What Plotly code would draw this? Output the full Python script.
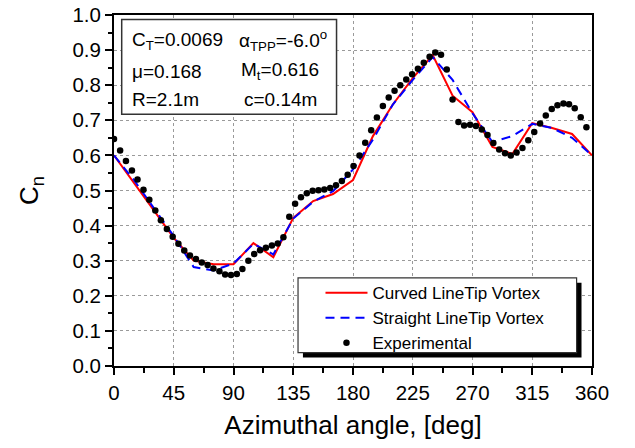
import plotly.graph_objects as go

# ---------------- data ----------------
model_angle = [0, 15, 30, 45, 60, 75, 90, 105, 120, 135, 150, 165, 180,
               195, 210, 225, 240, 255, 270, 285, 300, 315, 330, 345, 360]
curved_cn = [0.600, 0.522, 0.443, 0.365, 0.300, 0.290, 0.290, 0.350, 0.310,
             0.422, 0.470, 0.490, 0.530, 0.655, 0.745, 0.820, 0.886, 0.770,
             0.723, 0.624, 0.604, 0.692, 0.678, 0.661, 0.600]
straight_cn = [0.600, 0.530, 0.450, 0.370, 0.282, 0.272, 0.292, 0.348, 0.318,
               0.420, 0.468, 0.498, 0.560, 0.645, 0.745, 0.815, 0.880, 0.815,
               0.720, 0.638, 0.655, 0.690, 0.678, 0.650, 0.600]

exp_angle = [0.0, 4.6, 9.0, 13.5, 17.7, 22.2, 26.6, 31.1, 35.3, 39.8, 44.2,
             48.5, 52.9, 57.2, 61.7, 66.1, 70.5, 74.9, 79.4, 83.7, 88.1,
             92.5, 96.7, 101.2, 105.6, 110.0, 114.4, 118.9, 123.3, 127.6,
             132.0, 136.4, 140.8, 145.2, 149.6, 154.0, 158.4, 162.8, 167.2,
             171.6, 176.0, 180.4, 184.9, 189.2, 193.7, 198.0, 202.5, 206.9,
             211.3, 215.6, 220.1, 224.5, 228.9, 233.3, 237.7, 242.0, 246.3,
             250.6, 255.0, 259.4, 263.7, 268.2, 272.6, 277.0, 281.3, 285.7,
             290.1, 294.5, 298.8, 303.2, 307.6, 312.0, 316.5, 320.9, 325.2,
             329.7, 334.0, 338.5, 342.7, 347.0, 351.5, 355.8]
exp_cn = [0.647, 0.614, 0.584, 0.557, 0.531, 0.502, 0.474, 0.443, 0.415,
          0.390, 0.368, 0.348, 0.329, 0.315, 0.305, 0.295, 0.288, 0.278,
          0.270, 0.261, 0.259, 0.262, 0.276, 0.300, 0.319, 0.330, 0.337,
          0.343, 0.349, 0.367, 0.425, 0.462, 0.481, 0.492, 0.499, 0.501,
          0.503, 0.507, 0.515, 0.527, 0.545, 0.570, 0.600, 0.636, 0.672,
          0.708, 0.741, 0.765, 0.784, 0.800, 0.816, 0.831, 0.847, 0.864,
          0.881, 0.893, 0.887, 0.845, 0.759, 0.695, 0.685, 0.687, 0.684,
          0.674, 0.658, 0.635, 0.617, 0.606, 0.600, 0.608, 0.621, 0.643,
          0.667, 0.691, 0.714, 0.732, 0.743, 0.748, 0.746, 0.734, 0.709,
          0.680]

x_ticks = [0, 45, 90, 135, 180, 225, 270, 315, 360]
y_ticks = [0.0, 0.1, 0.2, 0.3, 0.4, 0.5, 0.6, 0.7, 0.8, 0.9, 1.0]

FONT = "Liberation Sans, Arial, sans-serif"

fig = go.Figure()
fig.add_trace(go.Scatter(x=model_angle, y=curved_cn, mode="lines",
                         name="Curved LineTip Vortex",
                         line=dict(color="#ff0000", width=2)))
fig.add_trace(go.Scatter(x=model_angle, y=straight_cn, mode="lines",
                         name="Straight LineTip Vortex",
                         line=dict(color="#0000ff", width=2, dash="9px,6px")))
fig.add_trace(go.Scatter(x=exp_angle, y=exp_cn, mode="markers",
                         name="Experimental",
                         marker=dict(color="black", size=6.5)))

# parameter box
fig.add_shape(type="rect", xref="x", yref="y", x0=5.8, x1=167.6, y0=0.717, y1=0.987,
              fillcolor="white", line=dict(color="#333333", width=1.5), layer="above")
# legend box with shadow
fig.add_shape(type="rect", xref="x", yref="y", x0=142.3, x1=352.1, y0=0.024, y1=0.237,
              fillcolor="black", line=dict(width=0), layer="above")
fig.add_shape(type="rect", xref="x", yref="y", x0=138.6, x1=348.4, y0=0.038, y1=0.251,
              fillcolor="white", line=dict(color="#333333", width=1.2), layer="above")

ann = [
    ("C<sub>T</sub>=0.0069", 12.0, 0.926),
    ("α<sub>TPP</sub>=-6.0<sup>o</sup>", 93.0, 0.926),
    ("μ=0.168", 12.0, 0.840),
    ("M<sub>t</sub>=0.616", 94.5, 0.840),
    ("R=2.1m", 12.0, 0.758),
    ("c=0.14m", 96.5, 0.758),
]
for t, x, y in ann:
    fig.add_annotation(text=t, x=x, y=y, xref="x", yref="y", xanchor="left",
                       yanchor="middle", showarrow=False,
                       font=dict(family=FONT, size=19, color="black"))

axis_common = dict(
    showline=True, linecolor="black", linewidth=2, mirror=True,
    ticks="outside", tickcolor="black", tickwidth=1.5, ticklen=7,
    showgrid=True, gridcolor="#9a9a9a", gridwidth=1, griddash="dot",
    zeroline=False,
    tickfont=dict(family=FONT, size=20.5, color="black"),
)

fig.update_xaxes(range=[0, 360], tickvals=x_ticks,
                 minor=dict(dtick=22.5, tick0=0, ticks="outside", ticklen=5,
                            tickcolor="black", tickwidth=1.5, showgrid=False),
                 title=dict(text="Azimuthal angle, [deg]",
                            font=dict(family=FONT, size=26, color="black"),
                            standoff=13),
                 **axis_common)
fig.update_yaxes(range=[0, 1], tickvals=y_ticks, tickformat=".1f",
                 minor=dict(dtick=0.05, tick0=0, ticks="outside", ticklen=4,
                            tickcolor="black", tickwidth=1.5, showgrid=False),
                 title=dict(text="C<sub>n</sub>",
                            font=dict(family=FONT, size=26, color="black"),
                            standoff=26),
                 **axis_common)

fig.update_layout(
    width=635, height=448,
    margin=dict(l=114, r=43, t=15, b=82, autoexpand=False),
    paper_bgcolor="white", plot_bgcolor="white",
    showlegend=True,
    legend=dict(x=0.432, y=0.259, xanchor="left", yanchor="top",
                bgcolor="rgba(0,0,0,0)", borderwidth=0, tracegroupgap=0,
                itemwidth=42,
                font=dict(family=FONT, size=17, color="black")),
)

fig.write_html("out.html")
